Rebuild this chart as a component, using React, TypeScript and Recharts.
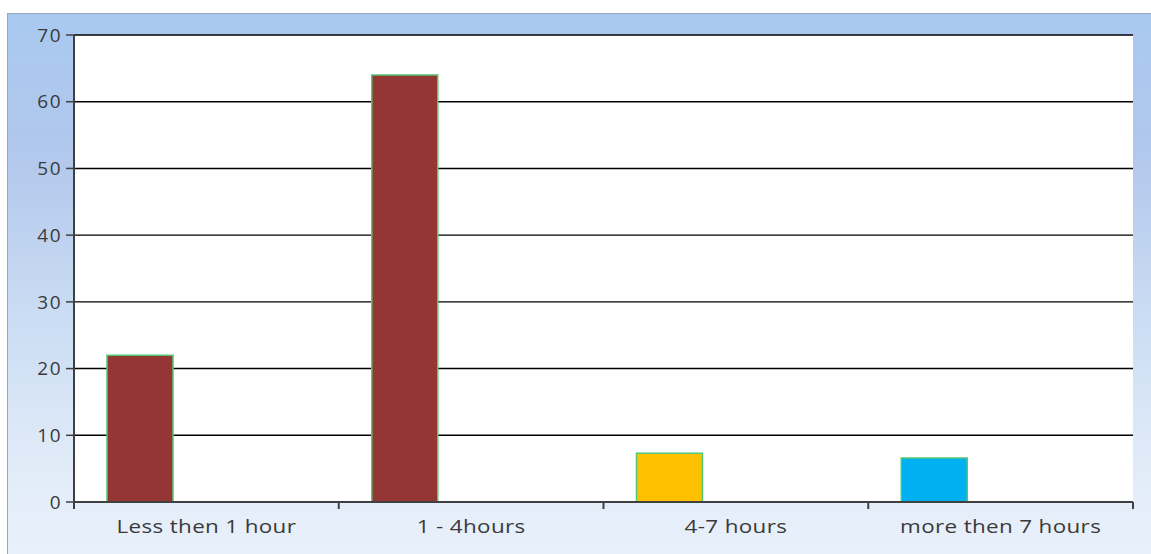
import { BarChart, Bar, XAxis, YAxis, CartesianGrid, Cell } from "recharts";

const categories = ["Less then 1 hour", "1 - 4hours", "4-7 hours", "more then 7 hours"];
const hours = [22, 64, 7.3, 6.6];
const barColors = ["#943634", "#943634", "#FFC000", "#00B0F0"];
const yTicks = [0, 10, 20, 30, 40, 50, 60, 70];
const edgeTicks = [0, 0.5, 1, 1.5, 2, 2.5, 3, 3.5, 4];

const data = categories.map((name, i) => ({ name, slot: i + 0.5, hours: hours[i], s2: 0, s3: 0 }));

const baseText = { fontSize: 19, fill: "#3a3a3a", fontFamily: "Open Sans" };

// integer positions are slot edges (tick marks), halves are slot centres (labels)
function EdgeTick({ x, y, payload }: any) {
  const v = payload.value as number;
  const axisY = y - 8; // recharts passes y after default tickSize + tickMargin
  if (Number.isInteger(v)) {
    return <line x1={x} x2={x} y1={axisY} y2={axisY + 7} stroke="#404040" strokeWidth={2} />;
  }
  // the original labels look a bit stretched sideways
  return (
    <text
      transform={`translate(${x} ${axisY + 24}) scale(1.18 1)`}
      textAnchor="middle"
      dominantBaseline="central"
      {...baseText}
      letterSpacing={0.3}
    >
      {categories[Math.floor(v)]}
    </text>
  );
}

export default function App() {
  return (
    <div style={{ position: "absolute", left: 0, top: 0, width: 1151, height: 554, background: "#fff", overflow: "hidden" }}>
      <div
        style={{
          position: "absolute",
          left: 7,
          top: 13,
          width: 1144,
          height: 541,
          background: "linear-gradient(to bottom, #a9c9f0 0%, #b1c7ec 25%, #c9dcf3 55%, #e2ecf9 85%, #e8f0fa 100%)",
          borderTop: "1px solid #9aa7b8",
          borderLeft: "1px solid #9aa7b8",
          boxSizing: "border-box",
        }}
      />
      <div style={{ position: "absolute", left: 0, top: 0 }}>
        <BarChart
          width={1151}
          height={554}
          data={data}
          margin={{ top: 35, right: 18, bottom: 0, left: 0 }}
          barCategoryGap={33}
          barGap={0}
        >
          <CartesianGrid xAxisId="edge" vertical={false} stroke="#000" strokeWidth={1.4} fill="#ffffff" fillOpacity={1} />
          <XAxis
            type="number"
            xAxisId="edge"
            dataKey="slot"
            domain={[0, 4]}
            allowDataOverflow
            ticks={edgeTicks}
            interval={0}
            height={52}
            axisLine={{ stroke: "#404040", strokeWidth: 2 }}
            tickLine={false}
            tick={<EdgeTick />}
          />
          <XAxis dataKey="name" xAxisId="cat" hide height={0} />
          <YAxis
            domain={[0, 70]}
            ticks={yTicks}
            width={74}
            axisLine={{ stroke: "#404040", strokeWidth: 2 }}
            tickLine={{ stroke: "#404040", strokeWidth: 1.5 }}
            tickSize={8}
            tickMargin={4}
            tick={{ ...baseText, letterSpacing: 1.5 }}
          />
          <Bar dataKey="hours" xAxisId="cat" stroke="#52c774" strokeWidth={1.5} isAnimationActive={false}>
            {data.map((d, i) => (
              <Cell key={d.name} fill={barColors[i]} />
            ))}
          </Bar>
          <Bar dataKey="s2" xAxisId="cat" fill="none" isAnimationActive={false} />
          <Bar dataKey="s3" xAxisId="cat" fill="none" isAnimationActive={false} />
        </BarChart>
      </div>
    </div>
  );
}
